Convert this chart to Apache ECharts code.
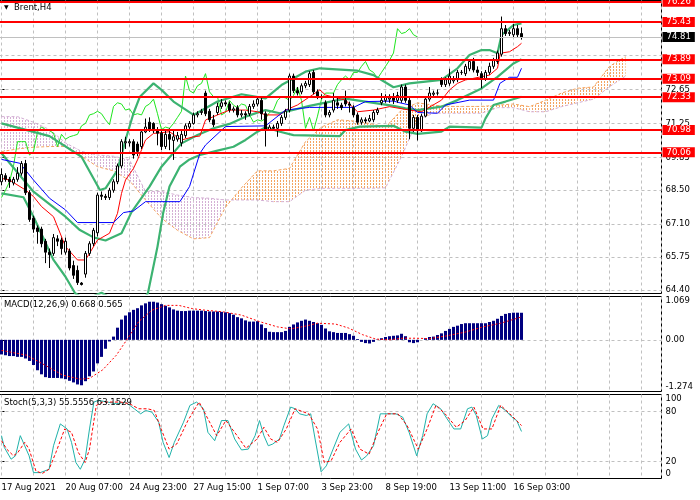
<!DOCTYPE html>
<html>
<head>
<meta charset="utf-8">
<script src="https://cdn.jsdelivr.net/npm/echarts@6/dist/echarts.min.js"></script>
</head>
<body style="margin:0;background:#fff">
<div id="main" style="width:700px;height:500px;"></div>
<script>
    // time labels every 16 bars, price ticks / levels of the right scale
    var dateLabels = ['17 Aug 2021', '20 Aug 07:00', '24 Aug 23:00', '27 Aug 15:00', '1 Sep 07:00',
        '3 Sep 23:00', '8 Sep 19:00', '13 Sep 11:00', '16 Sep 03:00'];
    var priceTicks = [64.40, 65.75, 67.10, 68.50, 69.85, 71.25, 72.65, 74.05, 75.45];
    var priceLabels = [64.40, 65.75, 67.10, 68.50, 69.85, 71.25, 72.65];
    var levels = [76.26, 75.43, 73.89, 73.09, 72.33, 70.98, 70.06];
    var lastPrice = 74.81;

    // H4 candles, bar index 0..130
    var openP = [68.85, 69.1, 68.95, 68.8, 68.95, 69.2, 69.6, 68.4, 67.35, 66.95,
        66.9, 66.4, 65.95, 65.9, 66.5, 66.45, 65.95, 66.0, 65.4, 65.2,
        64.68, 65.05, 65.9, 66.3, 66.75, 68.3, 68.25, 68.2, 68.5, 68.85,
        69.5, 70.45, 70.45, 70.5, 70.4, 70.3, 70.9, 71.3, 71.25, 70.95,
        70.85, 70.3, 70.8, 70.55, 70.6, 70.45, 70.75, 71.1, 71.25, 71.6,
        71.7, 72.5, 71.75, 71.4, 71.7, 71.95, 72.1, 72.05, 71.8, 71.9,
        71.6, 71.65, 71.65, 71.95, 72.05, 72.2, 71.65, 71.0, 71.1, 71.05,
        71.25, 71.5, 71.8, 73.2, 72.6, 72.55, 72.8, 72.85, 73.35, 72.55,
        72.35, 72.1, 71.6, 71.8, 72.1, 72.0, 72.2, 72.05, 71.9, 71.6,
        71.3, 71.4, 71.35, 71.4, 71.7, 72.1, 72.2, 72.25, 72.35, 72.2,
        72.2, 72.75, 72.2, 71.05, 71.5, 70.95, 71.55, 72.25, 72.45, 72.5,
        73.05, 72.85, 72.9, 73.0, 73.05, 73.35, 73.3, 73.5, 73.8, 73.45,
        73.3, 73.1, 73.35, 73.6, 73.8, 74.1, 75.15, 74.95, 74.9, 75.15,
        74.95];
    var closeP = [69.15, 68.95, 68.85, 68.95, 69.2, 69.6, 68.4, 67.3, 66.9, 66.8,
        66.3, 65.95, 65.85, 66.55, 66.4, 66.1, 66.4, 65.3, 65.0, 64.7,
        64.62, 65.9, 66.3, 66.85, 68.3, 68.25, 68.2, 68.5, 68.85, 69.5,
        70.5, 70.5, 70.5, 69.95, 70.1, 70.9, 71.1, 71.0, 70.95, 70.85,
        70.3, 70.8, 70.6, 70.7, 70.75, 70.8, 71.15, 71.25, 71.6, 71.65,
        71.75, 71.65, 71.4, 71.2, 71.95, 72.1, 72.05, 71.8, 71.85, 71.6,
        71.65, 71.6, 71.95, 72.05, 72.25, 71.65, 71.0, 71.1, 71.05, 71.25,
        71.5, 71.75, 73.2, 72.6, 72.5, 72.8, 72.9, 73.3, 72.55, 72.35,
        72.35, 71.6, 71.7, 72.2, 72.0, 71.9, 72.05, 72.0, 71.6, 71.3,
        71.4, 71.35, 71.45, 71.7, 71.8, 72.2, 72.35, 72.3, 72.2, 72.4,
        72.75, 72.2, 71.05, 71.5, 70.95, 71.55, 72.25, 72.5, 72.5, 72.5,
        72.85, 73.05, 73.2, 73.05, 73.35, 73.35, 73.6, 73.8, 73.45, 73.35,
        73.1, 73.35, 73.6, 73.85, 74.15, 75.15, 74.95, 75.0, 75.15, 74.9,
        74.81];
    var lowP = [68.7, 68.85, 68.6, 68.7, 68.85, 69.1, 68.3, 67.2, 66.75, 66.3,
        66.15, 65.5, 65.3, 65.8, 66.2, 65.85, 65.85, 65.2, 64.85, 64.6,
        64.58, 64.9, 65.8, 66.2, 66.6, 68.1, 68.1, 68.1, 68.4, 68.75,
        69.4, 70.2, 70.3, 69.8, 69.9, 70.2, 70.85, 70.9, 70.85, 70.35,
        70.15, 70.2, 70.15, 69.75, 70.5, 70.3, 70.65, 71.0, 71.2, 71.5,
        71.6, 71.55, 71.3, 71.1, 71.6, 71.85, 71.95, 71.7, 71.7, 71.5,
        71.5, 71.4, 71.55, 71.85, 71.95, 71.4, 70.3, 70.95, 70.95, 70.7,
        71.15, 71.4, 71.7, 72.5, 72.4, 72.45, 72.7, 72.75, 72.45, 72.25,
        72.25, 71.5, 71.5, 71.7, 71.85, 71.8, 71.95, 71.7, 71.5, 71.2,
        71.2, 71.25, 71.3, 71.3, 71.6, 72.0, 72.1, 72.1, 72.05, 72.1,
        72.1, 72.1, 70.6, 70.9, 70.55, 70.9, 71.5, 72.15, 72.35, 72.4,
        72.75, 72.75, 72.8, 72.9, 72.95, 73.25, 73.2, 73.4, 73.35, 73.2,
        72.7, 73.0, 73.25, 73.5, 73.7, 74.0, 74.85, 74.85, 74.8, 74.8,
        74.7];
    var highP = [69.4, 69.2, 69.05, 69.05, 69.45, 69.7, 69.75, 68.5, 67.45, 67.05,
        67.0, 66.5, 66.1, 66.7, 66.65, 66.55, 66.55, 66.1, 65.6, 65.4,
        64.72, 66.0, 66.4, 66.95, 68.4, 68.45, 68.35, 68.6, 68.95, 69.6,
        70.6, 70.7, 70.6, 70.6, 70.5, 71.0, 71.45, 71.5, 71.3, 71.1,
        71.0, 70.95, 71.05, 70.95, 70.9, 71.0, 71.25, 71.35, 71.7, 71.75,
        71.85, 72.6, 71.85, 71.6, 72.1, 72.25, 72.2, 72.15, 71.95, 72.0,
        71.8, 71.75, 72.05, 72.2, 72.35, 72.3, 71.75, 71.2, 71.2, 71.35,
        71.6, 71.85, 73.3, 73.3, 72.75, 72.9, 73.0, 73.4, 73.45, 72.65,
        72.45, 72.2, 71.8, 72.5, 72.3, 72.1, 72.6, 72.15, 72.0, 71.7,
        71.5, 71.5, 71.6, 71.8, 71.9, 72.5, 72.45, 72.45, 72.5, 72.55,
        72.85, 72.85, 72.3, 71.6, 71.6, 71.65, 72.35, 72.75, 72.6, 72.65,
        73.15, 73.15, 73.5, 73.2, 73.45, 73.45, 73.7, 73.9, 73.95, 73.6,
        73.4, 73.45, 73.75, 73.95, 74.25, 75.65, 75.3, 75.1, 75.35, 75.3,
        75.2];

    // indicator lines as [bar, price]
    var bbUpper = [[0, 71.25], [12, 70.73], [20, 69.88], [24.6, 68.51], [26, 68.58], [29, 69.33], [31, 70.57],
        [33, 71.67], [34.6, 72.35], [38, 72.9], [40, 72.63], [43, 72.15], [48, 71.6], [54, 72.15], [60, 72.45],
        [66, 72.28], [70, 72.83], [76, 73.38], [79.6, 73.52], [89, 73.42], [93, 73.24], [95, 73.04], [98, 72.74],
        [102, 72.9], [110, 73.04], [114, 73.52], [117, 74.07], [120, 74.27], [122, 74.27], [124, 74.14],
        [125, 74.89], [128, 75.3], [130, 75.37]];
    var bbMiddle = [[0, 70.02], [8, 68.44], [16, 67.41], [19.6, 66.86], [23, 66.56], [26, 66.43], [30, 66.73],
        [32.5, 67.6], [37, 68.65], [40, 69.47], [45, 70.43], [49, 70.77], [53, 71.05], [57, 71.23], [61, 71.53],
        [66, 71.8], [69.6, 71.67], [77, 71.97], [86, 72.27], [98, 71.97], [101, 71.87], [104, 71.8], [110, 71.94],
        [114, 72.21], [120, 72.69], [124, 73.17], [128, 73.72], [130, 73.89]];
    var bbLower = [[0, 68.37], [5.5, 68.21], [8, 67.41], [13, 65.63], [16, 64.94], [18.4, 64.26], [21, 64.0],
        [25, 64.28], [28, 64.0], [32, 63.5], [35, 63.9], [36.6, 64.26], [39, 66.18], [40.4, 67.55], [42, 68.65],
        [44.6, 69.47], [47, 69.77], [49.6, 69.95], [54, 70.13], [58, 70.29], [61, 70.57], [64, 70.91], [66, 71.09],
        [69.6, 70.91], [73, 70.77], [84.6, 70.73], [86, 70.98], [89.6, 71.12], [98, 71.15], [101, 70.91],
        [104, 70.82], [110, 70.91], [112, 71.12], [120, 71.08], [121, 71.46], [123, 72.01], [126, 72.15], [130, 72.35]];
    var tenkan = [[0, 68.99], [2, 68.92], [6, 68.51], [8, 68.24], [10, 67.83], [13, 67.41], [16, 66.18], [19, 65.63],
        [21, 65.63], [24, 66.45], [27, 66.73], [29, 67.55], [30, 68.37], [31, 68.92], [33, 69.4], [34, 69.75],
        [36, 70.57], [38, 70.84], [40, 70.87], [42, 70.91], [45, 70.57], [48, 70.7], [49.6, 70.73], [51, 71.39],
        [54, 71.6], [57, 71.8], [61, 71.8], [64, 71.73], [66, 71.6], [69.6, 71.6], [71, 71.8], [74, 72.01],
        [79.6, 72.63], [81, 72.42], [86, 72.21], [89, 71.73], [93, 71.8], [97, 71.94], [102, 71.8], [105, 71.73],
        [110, 72.21], [112, 72.63], [114, 72.9], [116, 73.04], [122, 73.24], [124, 73.52], [124.7, 74.14],
        [125, 74.2], [127, 74.2], [129, 74.41], [130, 74.55]];
    var kijun = [[0, 69.77], [4.6, 69.61], [8, 68.92], [12, 68.17], [16, 67.69], [19, 67.17], [28, 67.17],
        [30.5, 67.58], [33, 67.65], [36, 68.03], [44.6, 68.03], [47, 68.65], [49.6, 70.02], [51, 70.36],
        [54.6, 70.91], [56, 71.12], [66, 71.15], [70, 71.67], [71, 71.8], [77, 71.91], [88, 71.91], [91, 72.15],
        [98, 72.17], [99.6, 72.1], [102, 72.01], [104, 71.7], [109, 71.67], [111, 72.01], [117, 72.21],
        [123, 72.21], [124.6, 72.9], [127, 73.15], [129, 73.15], [130, 73.52]];

    // Ichimoku cloud, read every 4 bars (shifted 26 bars ahead)
    var cloudIdx = [0, 4, 8, 12, 16, 20, 24, 28, 32, 36, 40, 44, 48, 52, 56, 60, 64, 68, 72, 76,
        80, 84, 88, 92, 96, 100, 104, 108, 112, 116, 120, 124, 128, 132, 136, 140, 144, 148, 152, 156];
    var spanA = [70.09, 70.2, 70.27, 70.3, 70.3, 69.9, 69.47, 69.3, 68.9, 68.1,
        67.35, 66.85, 66.5, 66.55, 67.8, 68.6, 69.3, 69.3, 69.4, 70.5,
        71.1, 71.4, 71.35, 71.25, 71.1, 71.8, 72.1, 72.0, 71.95, 71.95,
        71.95, 72.0, 72.05, 71.94, 72.2, 72.5, 72.7, 72.75, 73.6, 74.0];
    var spanB = [71.53, 71.53, 71.3, 71.0, 70.45, 70.1, 69.95, 69.9, 69.75, 68.45,
        68.45, 68.3, 68.2, 68.17, 68.1, 68.1, 68.1, 68.03, 68.03, 68.5,
        68.58, 68.58, 68.58, 68.58, 68.6, 69.88, 71.4, 71.67, 71.67, 71.67,
        71.67, 71.9, 71.9, 71.73, 71.73, 71.94, 72.1, 72.25, 72.76, 73.2];

    // MACD(12,26,9): histogram per bar, signal read as [bar, value]
    var macdHist = [-0.36, -0.38, -0.40, -0.40, -0.42, -0.42, -0.46, -0.52, -0.62, -0.75,
        -0.85, -0.92, -0.94, -0.94, -0.94, -0.95, -0.97, -1.01, -1.05, -1.10,
        -1.12, -1.02, -0.90, -0.78, -0.58, -0.42, -0.22, -0.04, 0.08, 0.30,
        0.50, 0.60, 0.68, 0.74, 0.78, 0.85, 0.90, 0.94, 0.94, 0.92,
        0.88, 0.84, 0.80, 0.75, 0.72, 0.71, 0.71, 0.72, 0.72, 0.72,
        0.72, 0.71, 0.70, 0.70, 0.70, 0.69, 0.68, 0.66, 0.62, 0.56,
        0.53, 0.48, 0.45, 0.45, 0.46, 0.38, 0.29, 0.20, 0.19, 0.19,
        0.19, 0.22, 0.32, 0.38, 0.43, 0.47, 0.50, 0.47, 0.44, 0.41,
        0.37, 0.28, 0.21, 0.19, 0.17, 0.17, 0.17, 0.14, 0.10, 0.02,
        -0.05, -0.08, -0.09, -0.05, 0.01, 0.04, 0.07, 0.09, 0.10, 0.11,
        0.15, 0.09, -0.06, -0.08, -0.06, 0.0, 0.04, 0.07, 0.08, 0.12,
        0.16, 0.22, 0.27, 0.32, 0.35, 0.39, 0.41, 0.41, 0.41, 0.41,
        0.41, 0.41, 0.44, 0.47, 0.52, 0.59, 0.64, 0.66, 0.67, 0.67,
        0.668];
    var macdSignal = [[0, -0.26], [6.3, -0.38], [10.8, -0.62], [15.3, -0.87], [19.7, -0.97], [22, -0.95],
        [25.3, -0.74], [28.7, -0.38], [32, 0.10], [34.3, 0.45], [37.6, 0.73], [41, 0.85], [44.3, 0.85],
        [47.7, 0.77], [51, 0.73], [55.5, 0.69], [60, 0.61], [64.5, 0.45], [69, 0.32], [72.3, 0.27], [75.6, 0.33],
        [79, 0.41], [83.5, 0.39], [86.8, 0.29], [90.2, 0.13], [93.5, 0.02], [96.9, 0.0], [100.3, 0.04],
        [103.6, 0.04], [107, 0.03], [111.4, 0.10], [115.9, 0.19], [120.4, 0.32], [124.8, 0.41], [130, 0.565]];

    // Stochastic(5,3,3) as [bar, value]
    var stochMain = [[0, 51], [0.7, 37], [2.4, 23], [3.5, 27], [4.7, 51], [5.8, 39], [6.9, 27], [8, 7], [9.7, 7],
        [10.8, 9], [11.9, 11], [13, 39], [14.7, 65], [16.4, 59], [17.5, 43], [18.6, 19], [19.7, 11], [20.9, 23],
        [22, 59], [23.1, 91], [24.2, 93], [26.5, 91], [28.7, 89], [31, 91], [33.2, 83], [34.8, 77], [36, 81],
        [37.6, 79], [39.3, 67], [40.4, 43], [41.9, 25], [43.2, 43], [45.5, 67], [47.1, 87], [48.8, 91], [50.5, 83],
        [51.6, 55], [53.3, 45], [55, 69], [56.6, 69], [58.3, 47], [60, 34], [61.7, 35], [63.4, 51], [64.5, 69],
        [65.6, 51], [66.7, 39], [67.8, 41], [69.5, 47], [70.6, 63], [72.3, 85], [73.4, 83], [74.5, 77], [76.2, 75],
        [77.3, 77], [78.4, 47], [79.9, 8], [81.2, 15], [82.9, 35], [84.6, 55], [86.8, 65], [88.5, 35], [90, 22],
        [91.3, 27], [93, 39], [94.7, 77], [96.9, 77], [98.6, 77], [100.3, 73], [101.9, 55], [103.8, 27], [105.3, 51],
        [106.4, 77], [107.9, 89], [109.8, 83], [111.4, 71], [113.1, 59], [114.8, 59], [116.5, 83], [117.6, 85],
        [118.7, 75], [120.2, 47], [121.5, 51], [122.6, 71], [124.3, 87], [126, 81], [127.6, 73], [128.8, 69], [130, 56]];
    var stochSignal = [[0, 45], [1.3, 35], [3, 27], [4.1, 31], [5.8, 43], [6.9, 35], [8.6, 9], [10.2, 6], [11.9, 11],
        [13.6, 31], [15.8, 59], [17.5, 55], [19.2, 31], [20.9, 19], [22, 35], [23.7, 87], [25.3, 91], [29.8, 91],
        [32, 89], [34.3, 83], [36.5, 83], [38.2, 81], [39.9, 59], [41.9, 35], [43.8, 41], [46.6, 69], [49.4, 91],
        [51.6, 71], [53.8, 51], [56.1, 69], [58.9, 51], [61.1, 36], [63.9, 47], [65.6, 61], [67.3, 47], [69, 43],
        [71.2, 59], [73.4, 83], [76.8, 77], [79, 59], [80.7, 19], [82.4, 21], [84.6, 43], [87.4, 59], [89.6, 35],
        [91.9, 29], [94.1, 55], [96.3, 77], [99.1, 77], [101.4, 63], [104.2, 35], [106.4, 59], [108.6, 87],
        [110.9, 77], [113.7, 61], [115.9, 69], [118.1, 85], [120.4, 59], [122.6, 59], [124.8, 87], [127.1, 77], [130, 63]];

    var FONT = 'DejaVu Sans';
    var FS = 8.5;
    var gridLine = { color: '#c0c0c0', type: [3, 3], width: 1 };

    // vertical dotted hatching like the MT4 cloud histogram
    function hatch(color) {
        var c = document.createElement('canvas');
        c.width = 3;
        c.height = 3;
        var g = c.getContext('2d');
        g.fillStyle = color;
        g.fillRect(1, 0, 1, 2);
        return { image: c, repeat: 'repeat' };
    }
    var orangeHatch = hatch('#f4a460');
    var pinkHatch = hatch('#d4afd4');

    var candles = openP.map(function (o, i) {
        return [i, o, closeP[i], lowP[i], highP[i]];
    });
    // chikou span = close drawn 26 bars back
    var chikou = closeP.slice(26).map(function (c, k) {
        return [k, c];
    });
    var cloudData = [];
    for (var k = 0; k < cloudIdx.length - 1; k++) {
        cloudData.push([cloudIdx[k], spanA[k], spanB[k], cloudIdx[k + 1], spanA[k + 1], spanB[k + 1]]);
    }
    var histData = macdHist.map(function (v, i) { return [i, v]; });

    function xAxisFor(grid, withLabels) {
        return {
            gridIndex: grid, type: 'value', min: -8, max: 165, interval: 8,
            axisLine: { show: false },
            axisTick: { show: false },
            splitLine: { show: true, lineStyle: gridLine },
            axisLabel: withLabels ? {
                show: true, align: 'left', margin: 5, color: '#000', fontSize: FS, fontFamily: FONT,
                formatter: function (v) {
                    var n = v / 16;
                    return (v >= 0 && v % 16 === 0 && n < dateLabels.length) ? dateLabels[n] : '';
                }
            } : { show: false }
        };
    }

    function yAxisFor(grid, min, max, values, fmt) {
        return {
            gridIndex: grid, type: 'value', position: 'right', min: min, max: max,
            splitLine: { show: false },
            axisLine: { show: false },
            axisTick: { show: true, length: 3, customValues: values, lineStyle: { color: '#000' } },
            axisLabel: {
                customValues: values, formatter: fmt, margin: 4, color: '#000',
                fontSize: FS, fontFamily: FONT,
                verticalAlignMinLabel: grid === 0 ? 'middle' : 'bottom',
                verticalAlignMaxLabel: grid === 0 ? 'middle' : 'top'
            }
        };
    }

    function lineSeries(data, color, width, type, z, xi) {
        return {
            type: 'line', xAxisIndex: xi || 0, yAxisIndex: xi || 0, data: data, z: z,
            showSymbol: false, symbol: 'none', silent: true,
            lineStyle: { color: color, width: width, type: type }
        };
    }

    var gridBase = {
        left: -30.5, width: 692, show: true, borderColor: '#000', borderWidth: 1,
        backgroundColor: '#fff', containLabel: false, outerBoundsMode: 'none'
    };

    var spanBLine = lineSeries(cloudIdx.map(function (x, k) { return [x, spanB[k]]; }), '#d4afd4', 1, [3, 2], 2);
    spanBLine.markLine = {
        silent: true, symbol: ['none', 'none'], z: 1, label: { show: false },
        lineStyle: gridLine,
        data: priceTicks.map(function (v) { return { yAxis: v }; })
    };

    var candleSeries = {
        type: 'candlestick', xAxisIndex: 0, yAxisIndex: 0, z: 4, silent: true,
        barWidth: 3,
        data: candles,
        itemStyle: { color: '#ffffff', color0: '#000000', borderColor: '#000000', borderColor0: '#000000', borderWidth: 1 },
        markLine: {
            silent: true, symbol: ['none', 'none'], z: 6,
            lineStyle: { color: '#ff0000', width: 2, type: 'solid' },
            label: {
                show: true, position: 'end', distance: 1, color: '#fff', backgroundColor: '#ff0000',
                padding: [1, 4, 0, 4], fontSize: FS, fontFamily: FONT, lineHeight: 9,
                formatter: function (p) { return p.value.toFixed(2); }
            },
            data: [{
                yAxis: lastPrice,
                lineStyle: { color: '#c0c0c0', width: 1, type: 'solid' },
                label: { backgroundColor: '#000000' }
            }].concat(levels.map(function (v) { return { yAxis: v }; }))
        }
    };

    var histSeries = {
        type: 'bar', xAxisIndex: 1, yAxisIndex: 1, z: 2, silent: true,
        barWidth: 3, data: histData,
        itemStyle: { color: '#000080' },
        markLine: {
            silent: true, symbol: ['none', 'none'], z: 1, label: { show: false },
            lineStyle: gridLine, data: [{ yAxis: 0 }]
        }
    };

    var stochMainSeries = lineSeries(stochMain, '#20b2aa', 1, 'solid', 3, 2);
    stochMainSeries.markLine = {
        silent: true, symbol: ['none', 'none'], z: 1, label: { show: false },
        lineStyle: gridLine, data: [{ yAxis: 20 }, { yAxis: 80 }]
    };

    var option = {
        animation: false,
        backgroundColor: '#ffffff',
        textStyle: { fontFamily: FONT },
        title: [{
            text: '{t|▼}  Brent,H4', left: 4, top: 3, padding: 0,
            textStyle: { fontSize: FS, fontWeight: 'normal', color: '#000', fontFamily: FONT, rich: { t: { fontSize: 6, color: '#000' } } }
        }, {
            text: 'MACD(12,26,9) 0.668 0.565', left: 4, top: 300, padding: 0,
            textStyle: { fontSize: FS, fontWeight: 'normal', color: '#000', fontFamily: FONT }
        }, {
            text: 'Stoch(5,3,3) 55.5556 63.1529', left: 4, top: 398, padding: 0,
            textStyle: { fontSize: FS, fontWeight: 'normal', color: '#000', fontFamily: FONT }
        }],
        grid: [
            Object.assign({ top: 0.5, height: 293 }, gridBase),
            Object.assign({ top: 296.5, height: 95 }, gridBase),
            Object.assign({ top: 394.5, height: 84 }, gridBase)
        ],
        xAxis: [xAxisFor(0, false), xAxisFor(1, false), xAxisFor(2, true)],
        yAxis: [
            yAxisFor(0, 64.25, 76.31, priceLabels, function (v) { return v.toFixed(2); }),
            yAxisFor(1, -1.274, 1.069, [-1.274, 0, 1.069], function (v) { return v === 0 ? '0.00' : v.toFixed(3); }),
            yAxisFor(2, 0, 100, [0, 20, 80, 100], function (v) { return String(v); })
        ],
        series: [
            {
                type: 'custom', xAxisIndex: 0, yAxisIndex: 0, z: 2, silent: true,
                encode: { x: [0, 3], y: [1, 2, 4, 5] },
                data: cloudData,
                renderItem: function (params, api) {
                    var x0 = api.value(0), a0 = api.value(1), b0 = api.value(2);
                    var x1 = api.value(3), a1 = api.value(4), b1 = api.value(5);
                    return {
                        type: 'polygon',
                        shape: { points: [api.coord([x0, a0]), api.coord([x1, a1]), api.coord([x1, b1]), api.coord([x0, b0])] },
                        style: { fill: (a0 + a1 > b0 + b1) ? orangeHatch : pinkHatch, stroke: null }
                    };
                }
            },
            lineSeries(cloudIdx.map(function (x, k) { return [x, spanA[k]]; }), '#f4a460', 1, [3, 2], 2),
            spanBLine,
            lineSeries(chikou, '#1ee61e', 1, 'solid', 3),
            lineSeries(bbUpper, '#3cb371', 2.2, 'solid', 3),
            lineSeries(bbMiddle, '#3cb371', 2.2, 'solid', 3),
            lineSeries(bbLower, '#3cb371', 2.2, 'solid', 3),
            lineSeries(tenkan, '#ff0000', 1, 'solid', 3),
            lineSeries(kijun, '#0000ff', 1, 'solid', 3),
            candleSeries,
            histSeries,
            lineSeries(macdSignal, '#ff0000', 1, [2, 2], 3, 1),
            stochMainSeries,
            lineSeries(stochSignal, '#ff0000', 1, [3, 2], 3, 2)
        ]
    };

    var myChart = echarts.init(document.getElementById('main'));
    myChart.setOption(option);
</script>
</body>
</html>
